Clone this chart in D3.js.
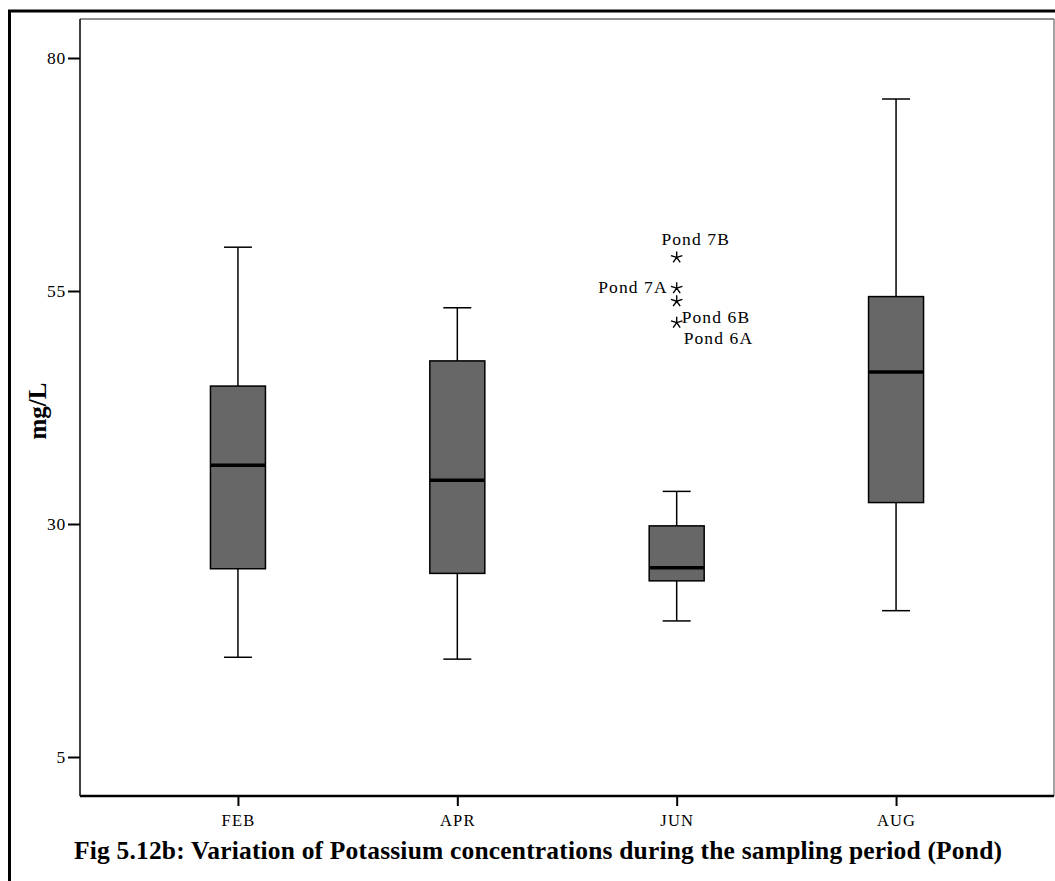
<!DOCTYPE html>
<html>
<head>
<meta charset="utf-8">
<script src="https://cdn.jsdelivr.net/npm/d3@7"></script>
<style>
  html, body { margin: 0; padding: 0; background: #fff; }
  svg { display: block; font-family: "Liberation Serif", "Times New Roman", serif; }
</style>
</head>
<body>
<svg id="chart" width="1055" height="881"></svg>
<script>
// ---- data ----
const categories = ["FEB", "APR", "JUN", "AUG"];
const whiskerLow  = [15.7, 15.5, 19.6, 20.7];
const q1          = [25.2, 24.7, 23.9, 32.3];
const medians     = [36.3, 34.7, 25.3, 46.3];
const q3          = [44.8, 47.5, 29.8, 54.4];
const whiskerHigh = [59.7, 53.2, 33.5, 75.6];
const outlierCategory = ["JUN", "JUN", "JUN", "JUN"];
const outlierValues   = [58.6, 55.3, 53.9, 51.6];
const outlierLabels   = ["Pond 7B", "Pond 7A", "Pond 6B", "Pond 6A"];
const yTicks = [5, 30, 55, 80];
const yTitle = "mg/L";
const title = "Fig 5.12b: Variation of Potassium concentrations during the sampling period (Pond)";

// ---- layout ----
const svg = d3.select("#chart");
const plot = { left: 80, right: 1054, top: 19, bottom: 796 };

const x = d3.scalePoint().domain(categories).range([plot.left, plot.right]).padding(0.72);
const y = d3.scaleLinear().domain([5, 80]).range([757, 58]);

// outer frame
svg.append("line").attr("x1", 9.5).attr("x2", 9.5).attr("y1", 10).attr("y2", 881)
  .attr("stroke", "#000").attr("stroke-width", 3);
svg.append("line").attr("x1", 8).attr("x2", 1055).attr("y1", 11).attr("y2", 11)
  .attr("stroke", "#000").attr("stroke-width", 3);

// plot frame (top and right)
svg.append("line").attr("x1", plot.left).attr("x2", plot.right).attr("y1", plot.top).attr("y2", plot.top)
  .attr("stroke", "#222").attr("stroke-width", 1.2);
svg.append("line").attr("x1", plot.right).attr("x2", plot.right).attr("y1", plot.top).attr("y2", plot.bottom)
  .attr("stroke", "#666").attr("stroke-width", 1.2);

// y axis
const yAxis = d3.axisLeft(y).tickValues(yTicks).tickSize(12).tickPadding(2).tickFormat(d3.format("d"));
const gy = svg.append("g").attr("transform", `translate(${plot.left},0)`).call(yAxis);
gy.select(".domain").remove();
gy.selectAll(".tick line").attr("stroke", "#000").attr("stroke-width", 2);
gy.selectAll(".tick text").attr("font-family", "Liberation Serif").attr("font-size", 17.5)
  .attr("letter-spacing", 0.8).attr("fill", "#000");
svg.append("line").attr("x1", plot.left).attr("x2", plot.left).attr("y1", plot.top).attr("y2", plot.bottom)
  .attr("stroke", "#000").attr("stroke-width", 1.5);

// x axis
const xAxis = d3.axisBottom(x).tickSize(10).tickPadding(8);
const gx = svg.append("g").attr("transform", `translate(0,${plot.bottom})`).call(xAxis);
gx.select(".domain").remove();
gx.selectAll(".tick line").attr("stroke", "#000").attr("stroke-width", 2);
gx.selectAll(".tick text").attr("font-family", "Liberation Serif").attr("font-size", 16.5)
  .attr("letter-spacing", 1.2).attr("fill", "#000");
svg.append("line").attr("x1", plot.left).attr("x2", plot.right).attr("y1", plot.bottom).attr("y2", plot.bottom)
  .attr("stroke", "#000").attr("stroke-width", 2.5);

// boxes
const boxW = 55, capW = 28;
const boxes = categories.map((c, i) => ({
  c, lo: whiskerLow[i], q1: q1[i], med: medians[i], q3: q3[i], hi: whiskerHigh[i]
}));
const g = svg.append("g");
const bg = g.selectAll("g.box").data(boxes).join("g").attr("class", "box");
// whiskers
bg.append("line").attr("x1", d => x(d.c)).attr("x2", d => x(d.c))
  .attr("y1", d => y(d.hi)).attr("y2", d => y(d.q3)).attr("stroke", "#000").attr("stroke-width", 1.5);
bg.append("line").attr("x1", d => x(d.c)).attr("x2", d => x(d.c))
  .attr("y1", d => y(d.q1)).attr("y2", d => y(d.lo)).attr("stroke", "#000").attr("stroke-width", 1.5);
bg.append("line").attr("x1", d => x(d.c) - capW / 2).attr("x2", d => x(d.c) + capW / 2)
  .attr("y1", d => y(d.hi)).attr("y2", d => y(d.hi)).attr("stroke", "#000").attr("stroke-width", 1.5);
bg.append("line").attr("x1", d => x(d.c) - capW / 2).attr("x2", d => x(d.c) + capW / 2)
  .attr("y1", d => y(d.lo)).attr("y2", d => y(d.lo)).attr("stroke", "#000").attr("stroke-width", 1.5);
// box
bg.append("rect").attr("x", d => x(d.c) - boxW / 2).attr("width", boxW)
  .attr("y", d => y(d.q3)).attr("height", d => y(d.q1) - y(d.q3))
  .attr("fill", "#676767").attr("stroke", "#000").attr("stroke-width", 1.5);
// median
bg.append("line").attr("x1", d => x(d.c) - boxW / 2).attr("x2", d => x(d.c) + boxW / 2)
  .attr("y1", d => y(d.med)).attr("y2", d => y(d.med)).attr("stroke", "#000").attr("stroke-width", 3.5);

// outliers (extreme values, drawn as stars)
const starR = 6;
const starPath = d3.range(5).map(k => {
  const a = -Math.PI / 2 + k * 2 * Math.PI / 5;
  return `M0,0L${(starR * Math.cos(a)).toFixed(2)},${(starR * Math.sin(a)).toFixed(2)}`;
}).join("");
const outliers = outlierValues.map((v, i) => ({ c: outlierCategory[i], v, label: outlierLabels[i] }));
// label placement relative to the star: [dx, dy, anchor]
const labelPlacement = [[19, -12, "middle"], [-9, 5, "end"], [5, 22, "start"], [7, 21, "start"]];
svg.append("g").selectAll("path").data(outliers).join("path")
  .attr("transform", d => `translate(${x(d.c)},${y(d.v)})`)
  .attr("d", starPath).attr("stroke", "#000").attr("stroke-width", 1.4).attr("fill", "none");
svg.append("g").selectAll("text").data(outliers).join("text")
  .attr("x", (d, i) => x(d.c) + labelPlacement[i][0])
  .attr("y", (d, i) => y(d.v) + labelPlacement[i][1])
  .attr("text-anchor", (d, i) => labelPlacement[i][2])
  .attr("font-size", 17.5).attr("letter-spacing", 1.1).attr("fill", "#000")
  .text(d => d.label);

// y title
svg.append("text")
  .attr("transform", `translate(46,411) rotate(-90)`)
  .attr("text-anchor", "middle").attr("font-weight", "bold").attr("font-size", 25)
  .text(yTitle);

// caption
svg.append("text").attr("x", 538).attr("y", 859).attr("text-anchor", "middle")
  .attr("font-weight", "bold").attr("font-size", 25.5)
  .attr("textLength", 928).attr("lengthAdjust", "spacing").text(title);
</script>
</body>
</html>
